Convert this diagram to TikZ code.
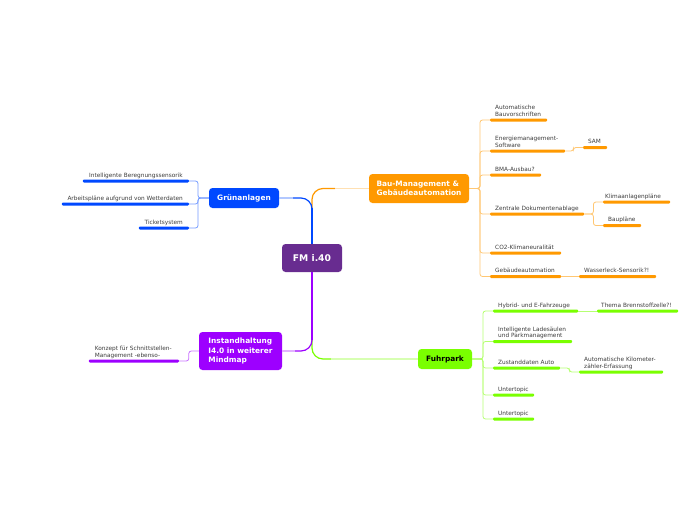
\documentclass[tikz,border=0pt]{standalone}
\usepackage{fontspec}
\setmainfont{DejaVu Sans}
\definecolor{rootpurple}{RGB}{104, 44, 144}
\definecolor{gruenblue}{RGB}{0, 72, 255}
\definecolor{bauorange}{RGB}{255, 153, 0}
\definecolor{fuhrgreen}{RGB}{122, 255, 0}
\definecolor{instviolet}{RGB}{157, 0, 255}
\definecolor{leafgrey}{RGB}{60, 60, 60}
\usetikzlibrary{calc}
\tikzset{
  topic/.style={rounded corners=3.5pt, font=\fontsize{7.4}{9.2}\selectfont\bfseries, text=white, align=left, inner sep=0pt},
  bar/.style={fill=#1, rounded corners=1pt, minimum height=3pt, inner sep=0pt, anchor=west},
  leaftext/.style={anchor=south west, font=\fontsize{5.8}{6.6}\selectfont, text=leafgrey, align=left, inner sep=0pt, text depth=1.8pt},
  lefttext/.style={leaftext, anchor=south east, align=right},
  link/.style={draw=#1!55, line width=0.8pt, rounded corners=2.5pt},
  main/.style={draw=#1, line width=1.2pt, rounded corners=11pt},
  stem/.style={draw=#1, line width=2.6pt},
  fade/.style={draw=#1!30, line width=1.1pt}
}
\begin{document}
\begin{tikzpicture}[x=1pt, y=-1pt]
  \useasboundingbox (0,0) rectangle (696,520);

  % Topics
  \node[topic, fill=rootpurple, minimum width=60pt, minimum height=28pt, font=\fontsize{9.2}{11}\selectfont\bfseries, align=center] (root) at (312,258) {FM i.40};
  \node[topic, fill=gruenblue, minimum width=70pt, minimum height=20pt, align=center] (gruen) at (244,198) {Grünanlagen};
  \node[topic, fill=bauorange, minimum width=100pt, minimum height=29pt] (bau) at (419,188.5) {Bau-Management \&\\Gebäudeautomation};
  \node[topic, fill=fuhrgreen, text=black, minimum width=54pt, minimum height=20pt, align=center] (fuhr) at (445,359) {Fuhrpark};
  \node[topic, fill=instviolet, minimum width=83pt, minimum height=38pt] (inst) at (240.5,351) {Instandhaltung\\I4.0 in weiterer\\Mindmap};

  % Branches from the root
  \coordinate (bauturn) at (335,188.5);
  \coordinate (gruenturn) at (293,198);
  \coordinate (fuhrturn) at (331,359);
  \coordinate (instturn) at (295,351);
  \coordinate (fuhrstart) at (312,335);
  \draw[main=bauorange] (root.north) |- (bauturn);
  \draw[fade=bauorange] (bauturn) -- (bau.west);
  \draw[main=gruenblue] (root.north) |- (gruenturn);
  \draw[fade=gruenblue] (gruenturn) -- (gruen.east);
  \draw[stem=gruenblue] (root.north) -- ($(root.north)+(0,-36)$);
  \draw[main=fuhrgreen] (fuhrstart) |- (fuhrturn);
  \draw[fade=fuhrgreen] (fuhrturn) -- (fuhr.west);
  \draw[main=instviolet] (root.south) |- (instturn);
  \draw[fade=instviolet] (instturn) -- (inst.east);
  \draw[stem=instviolet] (root.south) -- ($(root.south)+(0,68)$);

  % Bau-Management
  \node[bar=bauorange, minimum width=57pt] (vorschrift) at (490,120) {};
  \node[bar=bauorange, minimum width=75pt] (energie) at (490,151) {};
  \node[bar=bauorange, minimum width=24pt] (sam) at (583,147.5) {};
  \node[bar=bauorange, minimum width=51pt] (bma) at (490,175) {};
  \node[bar=bauorange, minimum width=94pt] (ablage) at (490,214) {};
  \node[bar=bauorange, minimum width=67pt] (klima) at (603,202) {};
  \node[bar=bauorange, minimum width=38pt] (bauplan) at (603,225.5) {};
  \node[bar=bauorange, minimum width=71pt] (cozwei) at (490,253) {};
  \node[bar=bauorange, minimum width=71pt] (gebaeude) at (490,276.5) {};
  \node[bar=bauorange, minimum width=77pt] (wasser) at (579,276.5) {};
  \node[leaftext] (vorschrifttext) at ([xshift=5pt]vorschrift.north west) {Automatische\\Bauvorschriften};
  \node[leaftext] (energietext) at ([xshift=5pt]energie.north west) {Energiemanagement-\\Software};
  \node[leaftext] (samtext) at ([xshift=5pt]sam.north west) {SAM};
  \node[leaftext] (bmatext) at ([xshift=5pt]bma.north west) {BMA-Ausbau?};
  \node[leaftext] (ablagetext) at ([xshift=5pt]ablage.north west) {Zentrale Dokumentenablage};
  \node[leaftext] (klimatext) at ([xshift=2pt]klima.north west) {Klimaanlagenpläne};
  \node[leaftext] (bauplantext) at ([xshift=5pt]bauplan.north west) {Baupläne};
  \node[leaftext] (cozweitext) at ([xshift=5pt]cozwei.north west) {CO2-Klimaneuralität};
  \node[leaftext] (gebaeudetext) at ([xshift=5pt]gebaeude.north west) {Gebäudeautomation};
  \node[leaftext] (wassertext) at ([xshift=5pt]wasser.north west) {Wasserleck-Sensorik?!};
  \coordinate (bautrunk) at (480,188.5);
  \foreach \leaf in {vorschrift, energie, bma, ablage, cozwei, gebaeude}
    \draw[link=bauorange] (bau.east) -- (bautrunk) |- (\leaf.west);
  \draw[link=bauorange] (energie.east) -- ++(8,0) |- (sam.west);
  \draw[link=bauorange] (ablage.east) -- ++(9,0) |- (klima.west);
  \draw[link=bauorange] (ablage.east) -- ++(9,0) |- (bauplan.west);
  \draw[link=bauorange] (gebaeude.east) -- (wasser.west);

  % Fuhrpark
  \node[bar=fuhrgreen, minimum width=85pt] (hybrid) at (493,311) {};
  \node[bar=fuhrgreen, minimum width=81pt] (thema) at (597,311) {};
  \node[bar=fuhrgreen, minimum width=79pt] (lade) at (493,341.5) {};
  \node[bar=fuhrgreen, minimum width=67pt] (zustand) at (493,368) {};
  \node[bar=fuhrgreen, minimum width=84pt] (kilometer) at (579,372) {};
  \node[bar=fuhrgreen, minimum width=41pt] (untereins) at (493,395) {};
  \node[bar=fuhrgreen, minimum width=41pt] (unterzwei) at (493,419) {};
  \node[leaftext] (hybridtext) at ([xshift=5pt]hybrid.north west) {Hybrid- und E-Fahrzeuge};
  \node[leaftext] (thematext) at ([xshift=4pt]thema.north west) {Thema Brennstoffzelle?!};
  \node[leaftext] (ladetext) at ([xshift=5pt]lade.north west) {Intelligente Ladesäulen\\und Parkmanagement};
  \node[leaftext] (zustandtext) at ([xshift=5pt]zustand.north west) {Zustanddaten Auto};
  \node[leaftext] (kilometertext) at ([xshift=5pt]kilometer.north west) {Automatische Kilometer-\\zähler-Erfassung};
  \node[leaftext] (untereinstext) at ([xshift=5pt]untereins.north west) {Untertopic};
  \node[leaftext] (unterzweitext) at ([xshift=5pt]unterzwei.north west) {Untertopic};
  \coordinate (fuhrtrunk) at (483,359);
  \foreach \leaf in {hybrid, lade, zustand, untereins, unterzwei}
    \draw[link=fuhrgreen] (fuhr.east) -- (fuhrtrunk) |- (\leaf.west);
  \draw[link=fuhrgreen] (hybrid.east) -- (thema.west);
  \draw[link=fuhrgreen] (zustand.east) -- ++(9,0) |- (kilometer.west);

  % Gruenanlagen
  \node[bar=gruenblue, minimum width=106pt, anchor=east] (beregnung) at (189,181) {};
  \node[bar=gruenblue, minimum width=127pt, anchor=east] (wetter) at (189,204) {};
  \node[bar=gruenblue, minimum width=50pt, anchor=east] (ticket) at (189,228) {};
  \node[lefttext] (beregnungtext) at ([xshift=-6pt]beregnung.north east) {Intelligente Beregnungssensorik};
  \node[lefttext] (wettertext) at ([xshift=-6pt]wetter.north east) {Arbeitspläne aufgrund von Wetterdaten};
  \node[lefttext] (tickettext) at ([xshift=-6pt]ticket.north east) {Ticketsystem};
  \coordinate (gruentrunk) at (198,198);
  \foreach \leaf in {beregnung, wetter, ticket}
    \draw[link=gruenblue] (gruen.west) -- (gruentrunk) |- (\leaf.east);

  % Instandhaltung
  \node[bar=instviolet, minimum width=90pt, anchor=east] (konzept) at (179,361) {};
  \node[leaftext] (konzepttext) at ([xshift=6pt]konzept.north west) {Konzept für Schnittstellen-\\Management -ebenso-};
  \draw[link=instviolet] (inst.west) -- ++(-10,0) |- (konzept.east);
\end{tikzpicture}
\end{document}
